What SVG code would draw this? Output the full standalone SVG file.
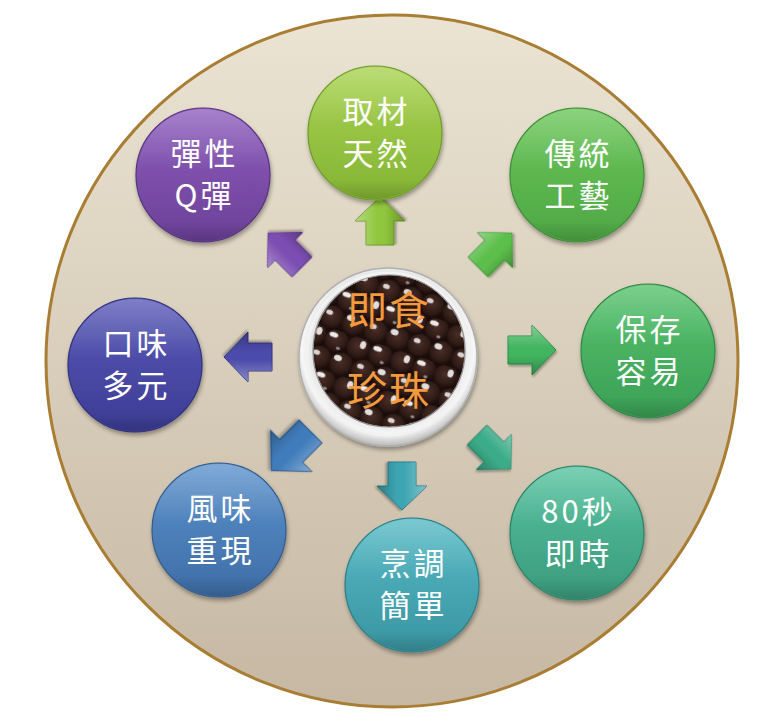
<svg xmlns="http://www.w3.org/2000/svg" xmlns:xlink="http://www.w3.org/1999/xlink" width="782" height="718" viewBox="0 0 782 718">
<style>
  .node-text { font-family: "Noto Sans CJK TC", "Noto Sans CJK SC", sans-serif; font-size: 31px; fill: #ffffff; text-anchor: middle; letter-spacing: 3px; }
  .center-text { font-family: "Noto Sans CJK TC", "Noto Sans CJK SC", sans-serif; font-size: 40px; fill: #f39a3e; text-anchor: middle; letter-spacing: 2px; }
  .node-circle { filter: url(#shadow); stroke-width: 1.2; }
  .node-shine { fill: url(#shine); pointer-events: none; }
  .arrow { filter: url(#ashadow); stroke-width: 1; }
  .arrow-bevel { fill: url(#bevel); }
</style>
<defs>
  <filter id="shadow" x="-20%" y="-20%" width="140%" height="150%">
    <feDropShadow dx="1" dy="3" stdDeviation="2" flood-color="#000" flood-opacity="0.35"/>
  </filter>
  <filter id="ashadow" x="-30%" y="-30%" width="160%" height="160%">
    <feDropShadow dx="1" dy="2" stdDeviation="1.2" flood-color="#000" flood-opacity="0.3"/>
  </filter>
  <linearGradient id="bg" x1="0" y1="0" x2="0" y2="1">
    <stop offset="0" stop-color="#ebe4d3"/>
    <stop offset="1" stop-color="#c6b8a3"/>
  </linearGradient>
  <linearGradient id="shine" x1="0" y1="0" x2="0" y2="1">
    <stop offset="0" stop-color="#fff" stop-opacity="0.22"/>
    <stop offset="0.45" stop-color="#fff" stop-opacity="0"/>
    <stop offset="0.85" stop-color="#000" stop-opacity="0"/>
    <stop offset="1" stop-color="#000" stop-opacity="0.15"/>
  </linearGradient>
  <linearGradient id="bevel" x1="0" y1="0" x2="0" y2="1">
    <stop offset="0" stop-color="#fff" stop-opacity="0.35"/>
    <stop offset="0.45" stop-color="#fff" stop-opacity="0"/>
    <stop offset="0.6" stop-color="#000" stop-opacity="0"/>
    <stop offset="1" stop-color="#000" stop-opacity="0.25"/>
  </linearGradient>
  <linearGradient id="g-lime" x1="0" y1="0" x2="0" y2="1"><stop offset="0" stop-color="#a8d250"/><stop offset="1" stop-color="#84b434"/></linearGradient>
  <linearGradient id="g-green" x1="0" y1="0" x2="0" y2="1"><stop offset="0" stop-color="#6cc65a"/><stop offset="1" stop-color="#4ea744"/></linearGradient>
  <linearGradient id="g-green2" x1="0" y1="0" x2="0" y2="1"><stop offset="0" stop-color="#56c26c"/><stop offset="1" stop-color="#3a9f55"/></linearGradient>
  <linearGradient id="g-tealg" x1="0" y1="0" x2="0" y2="1"><stop offset="0" stop-color="#55c29e"/><stop offset="1" stop-color="#3a9a7c"/></linearGradient>
  <linearGradient id="g-teal" x1="0" y1="0" x2="0" y2="1"><stop offset="0" stop-color="#55b9c4"/><stop offset="1" stop-color="#3995a1"/></linearGradient>
  <linearGradient id="g-blue" x1="0" y1="0" x2="0" y2="1"><stop offset="0" stop-color="#5c92cc"/><stop offset="1" stop-color="#3e6da6"/></linearGradient>
  <linearGradient id="g-indigo" x1="0" y1="0" x2="0" y2="1"><stop offset="0" stop-color="#5a5ab8"/><stop offset="1" stop-color="#3c3c95"/></linearGradient>
  <linearGradient id="g-purple" x1="0" y1="0" x2="0" y2="1"><stop offset="0" stop-color="#8e5ebd"/><stop offset="1" stop-color="#6b4097"/></linearGradient>
  <radialGradient id="glass" cx="0.5" cy="0.45" r="0.55">
    <stop offset="0.7" stop-color="#d9d9d9"/>
    <stop offset="0.88" stop-color="#f7f7f7"/>
    <stop offset="1" stop-color="#b9b9b9"/>
  </radialGradient>
  <radialGradient id="bead" cx="0.45" cy="0.4" r="0.6">
    <stop offset="0" stop-color="#4b2e27"/>
    <stop offset="0.7" stop-color="#2f1b16"/>
    <stop offset="1" stop-color="#170b09"/>
  </radialGradient>
  <pattern id="beads" x="0" y="0" width="46" height="42" patternUnits="userSpaceOnUse" patternTransform="rotate(18)">
    <rect width="46" height="42" fill="#1b0d0a"/>
    <circle cx="11.5" cy="10.5" r="12" fill="url(#bead)"/>
    <circle cx="34.5" cy="10.5" r="12" fill="url(#bead)"/>
    <circle cx="0" cy="31.5" r="12" fill="url(#bead)"/>
    <circle cx="23" cy="31.5" r="12" fill="url(#bead)"/>
    <circle cx="46" cy="31.5" r="12" fill="url(#bead)"/>
    <ellipse cx="7" cy="5" rx="4.5" ry="2.6" fill="#ffffff" opacity="0.9"/>
    <ellipse cx="38" cy="6" rx="3" ry="4" fill="#ffffff" opacity="0.85"/>
    <ellipse cx="18" cy="26" rx="4" ry="3" fill="#ffffff" opacity="0.85"/>
    <ellipse cx="-4" cy="27" rx="3.5" ry="2.5" fill="#ffffff" opacity="0.8"/>
    <ellipse cx="42" cy="27" rx="3.5" ry="2.5" fill="#ffffff" opacity="0.8"/>
    <ellipse cx="15" cy="17" rx="2" ry="1.4" fill="#ffffff" opacity="0.5"/>
  </pattern>
  <clipPath id="bowlclip"><circle cx="389" cy="351" r="76"/></clipPath>
  <path id="arrowShape" d="M -24,-14 L 0,-14 L 0,-25 L 24,0 L 0,25 L 0,14 L -24,14 Z"/>
</defs>

<g id="background">
  <circle cx="392" cy="361" r="346" fill="url(#bg)" stroke="#a97d34" stroke-width="3"/>
</g>

<g id="connectors">
  <g transform="translate(380,221) rotate(-90)"><use href="#arrowShape" class="arrow" fill="#8fc63d" stroke="#6e9c2a"/><use href="#arrowShape" class="arrow-bevel"/></g>
  <g transform="translate(495,250) rotate(-45)"><use href="#arrowShape" class="arrow" fill="#5dbf4c" stroke="#43983a"/><use href="#arrowShape" class="arrow-bevel"/></g>
  <g transform="translate(532,350)"><use href="#arrowShape" class="arrow" fill="#42b560" stroke="#2f8d49"/><use href="#arrowShape" class="arrow-bevel"/></g>
  <g transform="translate(494,452) rotate(45)"><use href="#arrowShape" class="arrow" fill="#3aab88" stroke="#2a876a"/><use href="#arrowShape" class="arrow-bevel"/></g>
  <g transform="translate(402,486) rotate(90)"><use href="#arrowShape" class="arrow" fill="#3ca5b2" stroke="#2b808b"/><use href="#arrowShape" class="arrow-bevel"/></g>
  <g transform="translate(291,451) rotate(135) scale(1.15)"><use href="#arrowShape" class="arrow" fill="#407bbb" stroke="#2e5c91"/><use href="#arrowShape" class="arrow-bevel"/></g>
  <g transform="translate(248,357) rotate(180)"><use href="#arrowShape" class="arrow" fill="#4b4bab" stroke="#363683"/><use href="#arrowShape" class="arrow-bevel"/></g>
  <g transform="translate(285,250) rotate(-135)"><use href="#arrowShape" class="arrow" fill="#7b4eb2" stroke="#5c3789"/><use href="#arrowShape" class="arrow-bevel"/></g>
</g>

<g id="center">
  <circle cx="388" cy="357" r="89" fill="url(#glass)" stroke="#b0b0b0" stroke-width="1.5" filter="url(#shadow)"/>
  <circle cx="388" cy="354" r="81" fill="none" stroke="#f2f2f2" stroke-width="3"/>
  <circle cx="389" cy="351" r="76" fill="url(#beads)" clip-path="url(#bowlclip)"/>
  <circle cx="389" cy="351" r="76" fill="none" stroke="#8d8d8d" stroke-width="1.2"/>
  <text class="center-text" x="389" y="325">即食</text>
  <text class="center-text" x="389" y="405">珍珠</text>
</g>

<g id="node-qucai">
  <circle class="node-circle" cx="375" cy="133" r="67" fill="url(#g-lime)" stroke="#6e9a2c"/>
  <circle class="node-shine" cx="375" cy="133" r="66"/>
  <text class="node-text" x="376.5" y="123">取材</text>
  <text class="node-text" x="376.5" y="165">天然</text>
</g>
<g id="node-chuantong">
  <circle class="node-circle" cx="577" cy="175" r="67" fill="url(#g-green)" stroke="#3f8c38"/>
  <circle class="node-shine" cx="577" cy="175" r="66"/>
  <text class="node-text" x="578.5" y="165">傳統</text>
  <text class="node-text" x="578.5" y="207">工藝</text>
</g>
<g id="node-baocun">
  <circle class="node-circle" cx="648" cy="351" r="67" fill="url(#g-green2)" stroke="#2f8646"/>
  <circle class="node-shine" cx="648" cy="351" r="66"/>
  <text class="node-text" x="649.5" y="341">保存</text>
  <text class="node-text" x="649.5" y="383">容易</text>
</g>
<g id="node-80miao">
  <circle class="node-circle" cx="577" cy="533" r="67" fill="url(#g-tealg)" stroke="#2d8166"/>
  <circle class="node-shine" cx="577" cy="533" r="66"/>
  <text class="node-text" x="578.5" y="523">80秒</text>
  <text class="node-text" x="578.5" y="565">即時</text>
</g>
<g id="node-pengtiao">
  <circle class="node-circle" cx="412" cy="585" r="67" fill="url(#g-teal)" stroke="#2d7d87"/>
  <circle class="node-shine" cx="412" cy="585" r="66"/>
  <text class="node-text" x="413.5" y="575">烹調</text>
  <text class="node-text" x="413.5" y="617">簡單</text>
</g>
<g id="node-fengwei">
  <circle class="node-circle" cx="219" cy="530" r="67" fill="url(#g-blue)" stroke="#335b8b"/>
  <circle class="node-shine" cx="219" cy="530" r="66"/>
  <text class="node-text" x="220.5" y="520">風味</text>
  <text class="node-text" x="220.5" y="562">重現</text>
</g>
<g id="node-kouwei">
  <circle class="node-circle" cx="135" cy="365" r="67" fill="url(#g-indigo)" stroke="#30307c"/>
  <circle class="node-shine" cx="135" cy="365" r="66"/>
  <text class="node-text" x="136.5" y="355">口味</text>
  <text class="node-text" x="136.5" y="397">多元</text>
</g>
<g id="node-tanxing">
  <circle class="node-circle" cx="203" cy="175" r="67" fill="url(#g-purple)" stroke="#56337d"/>
  <circle class="node-shine" cx="203" cy="175" r="66"/>
  <text class="node-text" x="204.5" y="165">彈性</text>
  <text class="node-text" x="204.5" y="207">Q彈</text>
</g>
</svg>
